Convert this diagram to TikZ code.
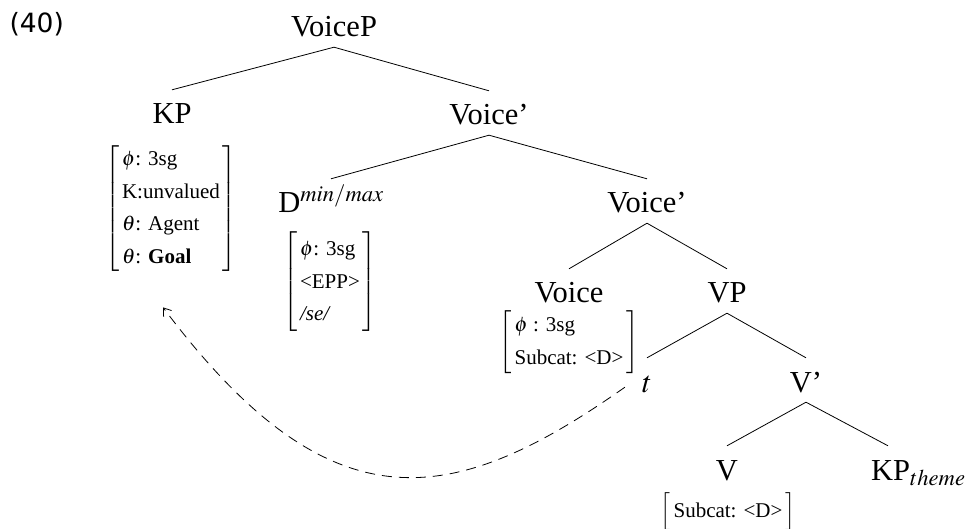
\documentclass[tikz,border=0pt]{standalone}
\usepackage{mathptmx}
\usepackage{fontspec}
\setmainfont{Liberation Serif}
\newfontfamily\exfont{DejaVu Sans}
\usetikzlibrary{arrows.meta}
\setlength{\tabcolsep}{3pt}
\renewcommand{\arraystretch}{1.3}

\begin{document}
\begin{tikzpicture}[x=1pt,y=-1pt,
	cat/.style={font=\fontsize{30.5}{35}\selectfont, inner sep=3pt, text height=31pt, text depth=7pt, anchor=base},
	feat/.style={font=\fontsize{21}{25}\selectfont, inner sep=0pt, anchor=north},
	branch/.style={line width=0.8pt}]
					\useasboundingbox (0,0) rectangle (977,529);
					% Example number
					\node[font=\exfont\fontsize{26.5}{30}\selectfont, anchor=base west] (exnum) at (6,33) {(40)};
					% Tree nodes
					\node[cat] (voicep) at (334,37) {VoiceP};
					\node[cat] (kp) at (172,124) {KP};
					\node[cat] (voicebar) at (489,125) {Voice'};
					\node[cat] (d) at (331,213) {D$^{min/max}$};
					\node[cat] (voicebarb) at (647,213) {Voice'};
					\node[cat] (voice) at (569,303) {Voice};
					\node[cat] (vp) at (727,303) {VP};
					\node[cat] (t) at (647,392) {$t$};
					\node[cat] (vbar) at (806,392) {V'};
					\node[cat] (v) at (727,480) {V};
					\node[cat, anchor=base west] (kptheme) at (868,480) {KP$_{theme}$};
					% Branches
					\draw[branch] (voicep.south) -- (kp.north);
					\draw[branch] (voicep.south) -- (voicebar.north);
					\draw[branch] (voicebar.south) -- (d.north);
					\draw[branch] (voicebar.south) -- (voicebarb.north);
					\draw[branch] (voicebarb.south) -- (voice.north);
					\draw[branch] (voicebarb.south) -- (vp.north);
					\draw[branch] (vp.south) -- (t.north);
					\draw[branch] (vp.south) -- (vbar.north);
					\draw[branch] (vbar.south) -- (v.north);
					\draw[branch] (vbar.south) -- ([xshift=20pt]kptheme.north west);
					% Feature matrices
					\node[feat] (kpfeat) at (171,143) {$\left[\begin{tabular}{l}$\phi$: 3sg\\ K:unvalued\\ $\theta$: Agent\\ $\theta$: \textbf{Goal}\end{tabular}\right]$};
					\node[feat] (dfeat) at (330,231) {$\left[\begin{tabular}{l}$\phi$: 3sg\\ <EPP>\\ \textit{/se/}\end{tabular}\right]$};
					\node[feat] (voicefeat) at (569,309) {$\left[\begin{tabular}{l}$\phi$ : 3sg\\ Subcat: <D>\end{tabular}\right]$};
					\node[feat] (vfeat) at (728,492) {$\left[\begin{tabular}{l}Subcat: <D>\end{tabular}\right]$};
					% Movement of t
					\draw[branch, dash pattern=on 10pt off 7pt, -{Straight Barb[length=7pt,width=10pt]}]
						([xshift=-14pt,yshift=15pt]t.south west) .. controls +(-172,121) and +(168,224) .. ([xshift=-8pt,yshift=-34pt]kpfeat.south);
				\end{tikzpicture}
\end{document}
